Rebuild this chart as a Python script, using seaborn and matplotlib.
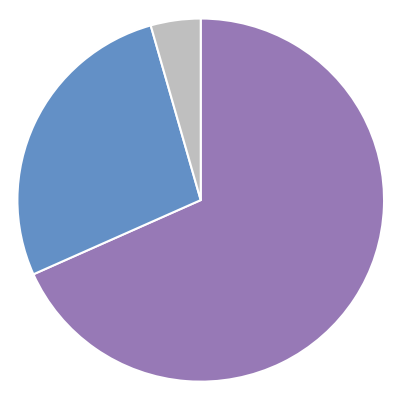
import matplotlib
matplotlib.use('Agg')
import matplotlib.pyplot as plt
import seaborn as sns

labels = ['Purple', 'Blue', 'Grey']
shares = [68.3, 27.3, 4.4]
colors = ['#9779b6', '#6390c6', '#bfbfbf']

sns.set_theme(style='white')

fig = plt.figure(figsize=(4, 4), dpi=100)
ax = fig.add_axes([0, 0, 1, 1])
ax.pie(shares, colors=colors, startangle=90, counterclock=False,
       wedgeprops={'edgecolor': 'white', 'linewidth': 1.5})
ax.set_aspect('auto')
ax.set_xlim(-1.095, 1.087)
ax.set_ylim(-1.101, 1.102)
ax.axis('off')

fig.savefig('out.png', dpi=100, facecolor='white')
